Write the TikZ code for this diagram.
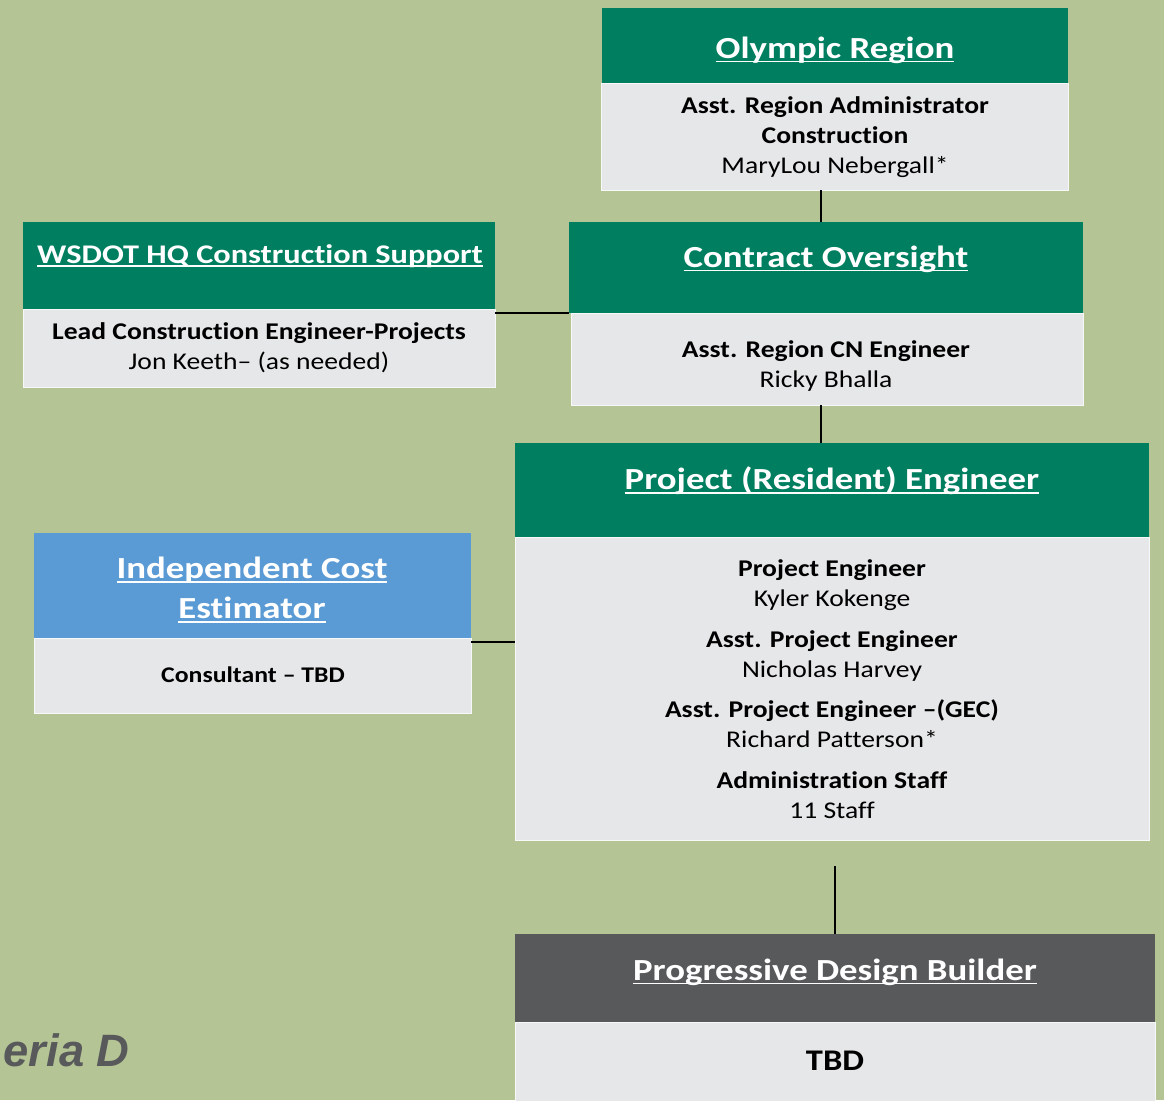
\documentclass[tikz,border=0pt]{standalone}
\usepackage{fontspec}
\setmainfont{Carlito}[FakeStretch=1.15, Ligatures=NoCommon]
\newfontfamily\hdrfont{Carlito}[FakeStretch=1.2, Ligatures=NoCommon]
\newfontfamily\arialfont{Liberation Sans}
\usetikzlibrary{fit}
\definecolor{bggreen}{HTML}{B5C495}
\definecolor{hdrgreen}{HTML}{007E60}
\definecolor{bodygrey}{HTML}{E6E7E8}
\definecolor{hdrblue}{HTML}{5B9BD5}
\definecolor{hdrdark}{HTML}{58595B}
\newcommand{\myul}[1]{\setbox0\hbox{#1}\rlap{\rule[-0.14em]{\wd0}{0.06em}}\box0}
\tikzset{
  boxbase/.style={inner sep=0pt, outer sep=0pt, draw=none},
  hgreen/.style={boxbase, fill=hdrgreen},
  hblue/.style={boxbase, fill=hdrblue},
  hdark/.style={boxbase, fill=hdrdark},
  bodybox/.style={boxbase, fill=bodygrey, draw=white!70!bodygrey, line width=0.6pt},
  htext/.style={text=white, font=\hdrfont\fontsize{23}{29.5}\selectfont\bfseries, align=center, inner sep=0pt},
  btext/.style={text=black, font=\fontsize{18}{22.5}\selectfont, align=center, inner sep=0pt},
  conn/.style={draw=black, line width=2.2pt}
}
\begin{document}
\begin{tikzpicture}[x=0.75pt,y=-0.75pt]
\fill[bggreen] (0,0) rectangle (1164,1100);
\useasboundingbox (0,0) rectangle (1164,1100);

% Olympic Region
\node[hgreen, fit={(602,8) (1068,83)}] (olyh) {};
\node[bodybox, fit={(601,83) (1068,190)}] (olyb) {};
\node[htext] (olyt) at (835,50) {\myul{Olympic Region}};
\node[btext] (olyx) at (835,137) {\textbf{Asst. Region Administrator}\\\textbf{Construction}\\MaryLou Nebergall*};

% WSDOT HQ
\node[hgreen, fit={(23,222) (495,309)}] (wsh) {};
\node[bodybox, fit={(23,309) (495,387)}] (wsb) {};
\node[htext, font=\hdrfont\fontsize{20.2}{26}\selectfont\bfseries] (wst) at (260,256) {\myul{WSDOT HQ Construction Support}};
\node[btext] (wsx) at (259,348) {\textbf{Lead Construction Engineer-Projects}\\Jon Keeth– (as needed)};

% Contract Oversight
\node[hgreen, fit={(569,222) (1083,313)}] (coh) {};
\node[bodybox, fit={(571,313) (1083,405)}] (cob) {};
\node[htext] (cot) at (826,259) {\myul{Contract Oversight}};
\node[btext] (cox) at (826,366) {\textbf{Asst. Region CN Engineer}\\Ricky Bhalla};

% Project (Resident) Engineer
\node[hgreen, fit={(515,443) (1149,537)}] (preh) {};
\node[bodybox, fit={(515,537) (1149,840)}] (preb) {};
\node[htext] (pret) at (832,481) {\myul{Project (Resident) Engineer}};
\node[btext] (prex) at (832,689) {\textbf{Project Engineer}\\Kyler Kokenge\\[8pt]
  \textbf{Asst. Project Engineer}\\Nicholas Harvey\\[8pt]
  \textbf{Asst. Project Engineer –(GEC)}\\Richard Patterson*\\[8pt]
  \textbf{Administration Staff}\\11 Staff};

% Independent Cost Estimator
\node[hblue, fit={(34,533) (471,638)}] (iceh) {};
\node[bodybox, fit={(34,638) (471,713)}] (iceb) {};
\node[htext] (icet) at (252,590) {\myul{Independent Cost}\\\myul{Estimator}};
\node[btext, font=\fontsize{16.8}{21}\selectfont] (icex) at (253,675) {\textbf{Consultant – TBD}};

% Progressive Design Builder
\node[hdark, fit={(515,934) (1155,1022)}] (pdbh) {};
\node[bodybox, fit={(515,1022) (1155,1112)}] (pdbb) {};
\node[htext] (pdbt) at (835,972) {\myul{Progressive Design Builder}};
\node[btext, font=\fontsize{22.5}{27}\selectfont\bfseries] (pdbx) at (835,1061) {TBD};

% Side label
\node[anchor=base east, inner sep=0pt, text=hdrdark, font=\arialfont\fontsize{34}{42}\selectfont\bfseries\itshape] (crit) at (130,1066) {eria D};

% Connectors
\coordinate (cx1) at (821,0);
\coordinate (cx2) at (835,866);
\coordinate (cy2) at (0,642);
\draw[conn] (olyb.south -| cx1) -- (coh.north -| cx1);
\draw[conn] (cob.south -| cx1) -- (preh.north -| cx1);
\draw[conn] (wsh.east |- coh.south) -- (coh.south west);
\draw[conn] (iceb.east |- cy2) -- (preb.west |- cy2);
\draw[conn] (cx2) -- (pdbh.north -| cx2);
\end{tikzpicture}
\end{document}
